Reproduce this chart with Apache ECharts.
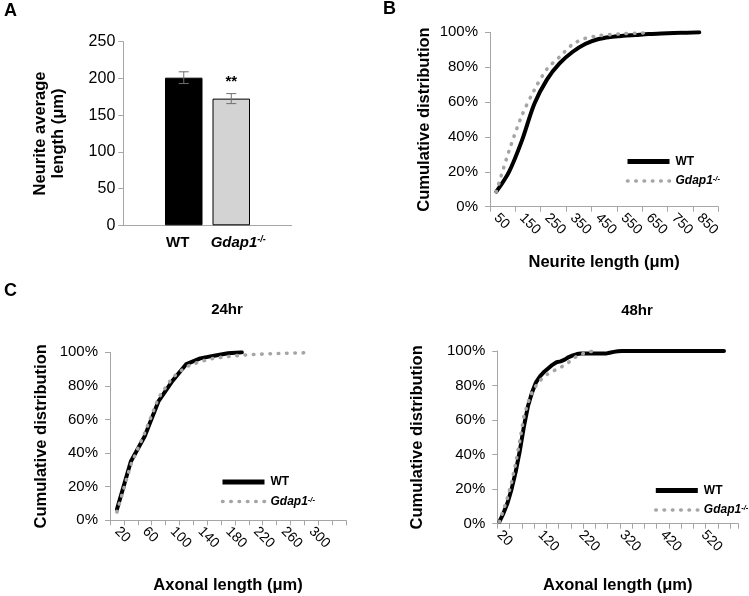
<!DOCTYPE html>
<html><head><meta charset="utf-8">
<script src="https://cdn.jsdelivr.net/npm/echarts@6/dist/echarts.min.js"></script>
<style>html,body{margin:0;padding:0;background:#fff}#c{width:749px;height:596px}</style>
</head><body><div id="c"></div>
<script>
// ---- Panel A: mean neurite length ----
const barGroups = ['WT', 'Gdap1-/-'];
const barMeans = [201, 172.5];
const barErrors = [8, 6.8];
const barSignif = ['', '**'];

// ---- Panel B: cumulative distribution of neurite length ----
const neuriteCats = [50,100,150,200,250,300,350,400,450,500,550,600,650,700,750,800,850,900];
const neuriteWT = [8.6,20,37.6,59,73,82.3,88.7,93.3,96,97.3,98,98.5,99,99.3,99.6,99.8,100];
const neuriteKO = [8.6,32,52,67,79,86,93,96.5,98,98.7,99.2,99.5,99.7];

// ---- Panel C 24hr: axonal length ----
const axon24Cats = [20,40,60,80,100,120,140,160,180,200,220,240,260,280,300,320,340];
const axon24WT = [6.5,35,50,71,83,93,96.4,98,99.4,100];
const axon24KO = [5,33,52,73,85,91.5,94.5,96.5,97.5,98.3,98.8,99.1,99.4,99.6,99.8];

// ---- Panel C 48hr: axonal length ----
const axon48Cats = [20,30,40,50,60,70,80,90,100,110,120,130,140,150,160,170,180,190,200,210,
  220,230,240,250,260,270,280,290,300,310,320,330,340,350,360,370,380,390,400,410,
  420,430,440,450,460,470,480,490,500,510,520,530,540,550,560,570,580,590,600];
const axon48WT = [1,6,12,20,30,42,56,68,76,82,85.5,88,90,92,93.5,94,95,96.5,97.5,98.2,
  98.5,98.5,98.5,98.5,98.5,98.5,98.5,99,99.5,99.8,
  100,100,100,100,100,100,100,100,100,100,100,100,100,100,100,100,100,100,100,100,
  100,100,100,100,100,100];
const axon48KO = [1,8,15,24,35,48,62,70,76,80,83,85,87,88,89.5,90.5,92,93.5,95.5,97,98,99,99.5,100];

const FONT = '"Liberation Sans", Arial, sans-serif';
const AX = '#a6a6a6';
const KO_COLOR = '#a5a5a5';
const BAR_W = 37.5, BAR_GAP_PX = 10;
const KO_DASH = [0.5, 7.8];

const chart = echarts.init(document.getElementById('c'), null, {renderer: 'canvas'});

const richLegend = {
  w: {fontWeight: 'bold', fontSize: 12, color: '#000', fontFamily: FONT},
  g: {fontWeight: 'bold', fontStyle: 'italic', fontSize: 12, color: '#000', fontFamily: FONT},
  s: {fontWeight: 'bold', fontStyle: 'italic', fontSize: 7.5, color: '#000', fontFamily: FONT, verticalAlign: 'top'}
};
const legendFmt = n => n === 'WT' ? '{w|WT}' : '{g|Gdap1}{s|-/-}';

function pctY(gi, gap) {
  return {
    gridIndex: gi, type: 'value', min: 0, max: 100, interval: 20,
    axisLine: {show: true, lineStyle: {color: AX, width: 1}},
    axisTick: {show: true, length: 5, lineStyle: {color: AX}},
    splitLine: {show: false},
    axisLabel: {formatter: '{value}%', fontSize: 15, color: '#000', fontFamily: FONT, margin: 12},
    name: 'Cumulative distribution', nameLocation: 'middle', nameGap: gap,
    nameTextStyle: {fontWeight: 'bold', fontSize: 16.5, color: '#000', fontFamily: FONT}
  };
}
function catX(gi, cats, tickInt, labInt, name, gap) {
  return {
    gridIndex: gi, type: 'category', data: cats.map(String), boundaryGap: true,
    axisLine: {show: true, lineStyle: {color: AX, width: 1}},
    axisTick: {show: true, interval: tickInt, length: 5, lineStyle: {color: AX}},
    axisLabel: {interval: labInt, rotate: -45, fontSize: 14, color: '#000', fontFamily: FONT, margin: 9},
    name: name, nameLocation: 'middle', nameGap: gap,
    nameTextStyle: {fontWeight: 'bold', fontSize: 16.5, color: '#000', fontFamily: FONT}
  };
}
function wtLine(xi, data, smooth) {
  return {type: 'line', name: 'WT', xAxisIndex: xi, yAxisIndex: xi, data: data, symbol: 'none',
    smooth: smooth, lineStyle: {color: '#000', width: 4, cap: 'round', join: 'round'},
    itemStyle: {color: '#000'}, z: 3};
}
function koLine(xi, data, smooth) {
  return {type: 'line', name: 'Gdap1-/-', xAxisIndex: xi, yAxisIndex: xi, data: data, symbol: 'none',
    smooth: smooth, lineStyle: {color: KO_COLOR, width: 3.6, type: KO_DASH, cap: 'round'},
    itemStyle: {color: KO_COLOR}, z: 4};
}
function legend(left, top) {
  return {orient: 'vertical', left: left, top: top, itemWidth: 42, itemHeight: 14, itemGap: 7.5,
    selectedMode: false, formatter: legendFmt,
    itemStyle: {opacity: 0},
    data: [
      {name: 'WT', lineStyle: {width: 5, color: '#000', cap: 'butt'}},
      {name: 'Gdap1-/-', lineStyle: {width: 3.6, color: KO_COLOR, type: KO_DASH, cap: 'round'}}
    ],
    textStyle: {rich: richLegend, padding: [0, 0, 0, 1]}};
}

const option = {
  animation: false,
  textStyle: {fontFamily: FONT},
  grid: [
    {left: 123.3, top: 41.7, width: 168.4, height: 183.6},
    {left: 490, top: 32.3, width: 228.3, height: 174.4},
    {left: 110, top: 352.3, width: 236, height: 168},
    {left: 497.3, top: 351, width: 241, height: 172.7}
  ],
  xAxis: [
    {gridIndex: 0, type: 'category', data: [''], axisTick: {show: false}, axisLabel: {show: false},
     axisLine: {lineStyle: {color: AX}}},
    catX(1, neuriteCats, 1, 1, 'Neurite length (μm)', 47),
    catX(2, axon24Cats, 0, (i) => i % 2 === 0 && i < axon24Cats.length - 1, 'Axonal length (μm)', 57),
    catX(3, axon48Cats, 2, 9, 'Axonal length (μm)', 53)
  ],
  yAxis: [
    {gridIndex: 0, type: 'value', min: 0, max: 250, interval: 50,
     axisLine: {show: true, lineStyle: {color: AX}},
     axisTick: {show: true, length: 5, lineStyle: {color: AX}},
     splitLine: {show: false},
     axisLabel: {fontSize: 16, color: '#000', fontFamily: FONT, margin: 8},
     name: 'Neurite average\nlength (μm)', nameLocation: 'middle', nameGap: 56,
     nameTextStyle: {fontWeight: 'bold', fontSize: 16.5, color: '#000', fontFamily: FONT, lineHeight: 18}},
    pctY(1, 57),
    pctY(2, 60),
    pctY(3, 71)
  ],
  legend: [legend(620, 150.5), legend(215, 471), legend(648.3, 479.5)],
  series: [
    {type: 'bar', name: 'mean ' + barGroups[0], xAxisIndex: 0, yAxisIndex: 0, data: [barMeans[0]],
     barWidth: BAR_W, barGap: (BAR_GAP_PX / BAR_W * 100) + '%',
     itemStyle: {color: '#000', borderColor: '#000', borderWidth: 1},
     label: {show: true, position: 'bottom', distance: 10, offset: [-6, 0], formatter: '{w|WT}',
       rich: {w: {fontWeight: 'bold', fontSize: 15, color: '#000', fontFamily: FONT}}}},
    {type: 'bar', name: 'mean ' + barGroups[1], xAxisIndex: 0, yAxisIndex: 0, data: [barMeans[1]],
     barWidth: BAR_W,
     itemStyle: {color: '#d3d3d3', borderColor: '#000', borderWidth: 1},
     label: {show: true, position: 'bottom', distance: 10, offset: [7, 0], formatter: '{g|Gdap1}{s|-/-}',
       rich: {g: {fontWeight: 'bold', fontStyle: 'italic', fontSize: 15, color: '#000', fontFamily: FONT},
              s: {fontWeight: 'bold', fontStyle: 'italic', fontSize: 9, color: '#000', fontFamily: FONT, verticalAlign: 'top'}}}},
    {type: 'custom', name: 'sem', xAxisIndex: 0, yAxisIndex: 0, z: 10,
     data: barGroups.map((g, i) => [0, barMeans[i] - barErrors[i], barMeans[i] + barErrors[i], i]),
     encode: {x: 0, y: [1, 2]},
     renderItem: function (params, api) {
       const i = api.value(3);
       const cx = api.coord([0, 0])[0] + (i === 0 ? -1 : 1) * (BAR_W + BAR_GAP_PX) / 2;
       const yl = api.coord([0, api.value(1)])[1];
       const yh = api.coord([0, api.value(2)])[1];
       const st = {stroke: '#707070', lineWidth: 1};
       const ch = [
         {type: 'line', shape: {x1: cx, y1: yl, x2: cx, y2: yh}, style: st},
         {type: 'line', shape: {x1: cx - 5, y1: yl, x2: cx + 5, y2: yl}, style: st},
         {type: 'line', shape: {x1: cx - 5, y1: yh, x2: cx + 5, y2: yh}, style: st}
       ];
       if (barSignif[i]) {
         ch.push({type: 'text', x: cx, y: yh - 4, style: {text: barSignif[i], textAlign: 'center', textVerticalAlign: 'bottom',
           font: 'bold 15px ' + FONT, fill: '#000'}});
       }
       return {type: 'group', children: ch};
     }},
    wtLine(1, neuriteWT, 0.3), koLine(1, neuriteKO, 0.3),
    wtLine(2, axon24WT, false), koLine(2, axon24KO, false),
    wtLine(3, axon48WT, false), koLine(3, axon48KO, false)
  ],
  graphic: [
    {type: 'text', left: 4, top: 2, style: {text: 'A', font: 'bold 18px ' + FONT, fill: '#000'}},
    {type: 'text', left: 383, top: 0, style: {text: 'B', font: 'bold 18px ' + FONT, fill: '#000'}},
    {type: 'text', left: 4, top: 282, style: {text: 'C', font: 'bold 18px ' + FONT, fill: '#000'}},
    {type: 'text', x: 227, y: 310, style: {text: '24hr', font: 'bold 15px ' + FONT, fill: '#000', textAlign: 'center', textVerticalAlign: 'middle'}},
    {type: 'text', x: 637, y: 311, style: {text: '48hr', font: 'bold 15px ' + FONT, fill: '#000', textAlign: 'center', textVerticalAlign: 'middle'}}
  ]
};
chart.setOption(option);
</script>
</body></html>
